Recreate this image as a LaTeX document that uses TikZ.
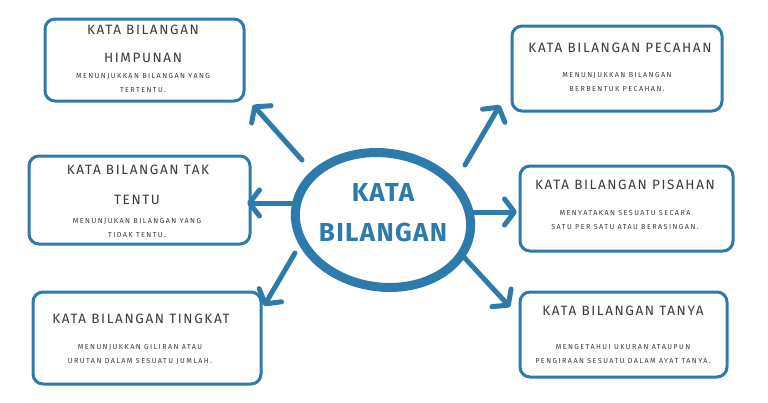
\documentclass[tikz,border=0pt]{standalone}
\usepackage{fontspec}
\setmainfont{Fira Sans}
\newfontfamily\titlefont[LetterSpace=12]{Fira Sans}
\newfontfamily\subfont[LetterSpace=20]{Fira Sans}
\newfontfamily\bigfont[LetterSpace=5]{Fira Sans}
\usetikzlibrary{arrows.meta,shapes.geometric}
\definecolor{mblue}{HTML}{2E7BAB}
\definecolor{txt}{HTML}{3A3A3A}
\tikzset{
  card/.style={draw=mblue, line width=3pt, rounded corners=10pt, fill=white},
  ttl/.style={inner sep=0pt, text=txt, font=\titlefont\fontsize{13.5}{15}\selectfont},
  sub/.style={inner sep=0pt, text=txt, align=center, font=\subfont\fontsize{7.2}{14}\selectfont},
  conn/.style={draw=mblue, line width=5pt, line cap=round,
    -{Straight Barb[length=10pt,width=26pt,round]}},
}
\begin{document}
\begin{tikzpicture}[x=1pt,y=-1pt]
\useasboundingbox (0,0) rectangle (768,402);
% boxes
\node[card, minimum width=199pt, minimum height=82pt] (b1) at (144.5,60) {};
\node[card, minimum width=210pt, minimum height=85pt] (b2) at (617,68.5) {};
\node[card, minimum width=221pt, minimum height=88pt] (b3) at (139.5,200) {};
\node[card, minimum width=213pt, minimum height=85pt] (b4) at (626.5,208.5) {};
\node[card, minimum width=228pt, minimum height=92pt] (b5) at (147,338) {};
\node[card, minimum width=207pt, minimum height=85pt] (b6) at (623.5,334.5) {};
% titles
\node[ttl] (t1a) at (143,30) {KATA BILANGAN};
\node[ttl] (t1b) at (143,58) {HIMPUNAN};
\node[sub] (s1) at (143,83) {MENUNJUKKAN BILANGAN YANG\\TERTENTU.};
\node[ttl] (t2) at (620,48) {KATA BILANGAN PECAHAN};
\node[sub] (s2) at (617,82.5) {MENUNJUKKAN BILANGAN\\BERBENTUK PECAHAN.};
\node[ttl] (t3a) at (138,170) {KATA BILANGAN TAK};
\node[ttl] (t3b) at (137,200) {TENTU};
\node[sub] (s3) at (137,228.5) {MENUNJUKAN BILANGAN YANG\\TIDAK TENTU.};
\node[ttl] (t4) at (625,185) {KATA BILANGAN PISAHAN};
\node[sub] (s4) at (625,220) {MENYATAKAN SESUATU SECARA\\SATU PER SATU ATAU BERASINGAN.};
\node[ttl] (t5) at (141,319) {KATA BILANGAN TINGKAT};
\node[sub] (s5) at (140,354) {MENUNJUKKAN GILIRAN ATAU\\URUTAN DALAM SESUATU JUMLAH.};
\node[ttl] (t6) at (623,311) {KATA BILANGAN TANYA};
\node[sub] (s6) at (623,354.5) {MENGETAHUI UKURAN ATAUPUN\\PENGIRAAN SESUATU DALAM AYAT TANYA.};
% center
\node[draw=mblue, line width=9pt, ellipse, minimum width=176pt, minimum height=134pt, rotate=-8] (c) at (383,220) {};
\node[inner sep=0pt, text=mblue, align=center, font=\bigfont\bfseries\fontsize{26}{40}\selectfont] (ct) at (383,213) {KATA\\BILANGAN};
% arrow coordinates
\coordinate (p1) at (302,160); \coordinate (q1) at (253,105);
\coordinate (p2) at (297,203); \coordinate (q2) at (247,203);
\coordinate (p3) at (295,253); \coordinate (q3) at (264,306);
\coordinate (p4) at (465,165); \coordinate (q4) at (500,105);
\coordinate (p5) at (473,212); \coordinate (q5) at (517,212);
\coordinate (p6) at (462,255); \coordinate (q6) at (510,307);
\foreach \i in {1,...,6} { \draw[conn] (p\i) -- (q\i); }
\end{tikzpicture}
\end{document}
